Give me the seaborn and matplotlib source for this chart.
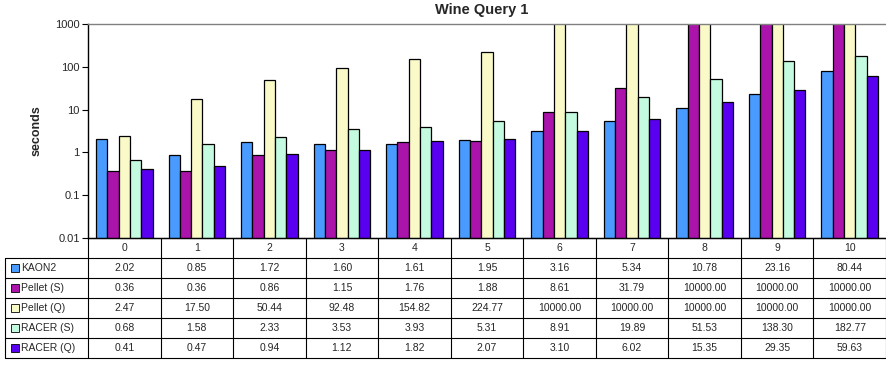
import matplotlib
matplotlib.use("Agg")
import matplotlib.pyplot as plt
from matplotlib.patches import Rectangle
from matplotlib.lines import Line2D
import seaborn as sns
import pandas as pd

# Query sizes (x categories)
categories = ["0", "1", "2", "3", "4", "5", "6", "7", "8", "9", "10"]
series_names = ["KAON2", "Pellet (S)", "Pellet (Q)", "RACER (S)", "RACER (Q)"]

kaon2 = [2.02, 0.85, 1.72, 1.60, 1.61, 1.95, 3.16, 5.34, 10.78, 23.16, 80.44]
pellet_s = [0.36, 0.36, 0.86, 1.15, 1.76, 1.88, 8.61, 31.79, 10000.00, 10000.00, 10000.00]
pellet_q = [2.47, 17.50, 50.44, 92.48, 154.82, 224.77, 10000.00, 10000.00, 10000.00, 10000.00, 10000.00]
racer_s = [0.68, 1.58, 2.33, 3.53, 3.93, 5.31, 8.91, 19.89, 51.53, 138.30, 182.77]
racer_q = [0.41, 0.47, 0.94, 1.12, 1.82, 2.07, 3.10, 6.02, 15.35, 29.35, 59.63]

y_ticks = [0.01, 0.1, 1, 10, 100, 1000]
y_tick_labels = ["0.01", "0.1", "1", "10", "100", "1000"]

colors = ["#4a9bff", "#ab14ab", "#fafac8", "#c4fadf", "#5a00f0"]

series_values = [kaon2, pellet_s, pellet_q, racer_s, racer_q]
df = pd.DataFrame(
    [(c, name, v) for name, vals in zip(series_names, series_values)
     for c, v in zip(categories, vals)],
    columns=["query", "system", "seconds"],
)

sns.set_theme(style="white")
plt.rcParams["font.family"] = ["Liberation Sans", "DejaVu Sans"]

W, H = 887, 365
fig = plt.figure(figsize=(W / 100, H / 100), dpi=100)

# plot area in pixel coordinates
px_left, px_right, px_top, px_bottom = 88, 886, 24, 238
ax = fig.add_axes([px_left / W, 1 - px_bottom / H,
                   (px_right - px_left) / W, (px_bottom - px_top) / H])
ax.set_yscale("log")

sns.barplot(data=df, x="query", y="seconds", hue="system", order=categories,
            hue_order=series_names, palette=colors, width=0.78, gap=0,
            edgecolor="black", linewidth=0.9, ax=ax,
            legend=False, saturation=1)

ax.set_ylim(0.01, 1000)
ax.set_xlim(-0.5, len(categories) - 0.5)
ax.set_yticks(y_ticks)
ax.set_yticklabels(y_tick_labels, fontsize=8)
ax.yaxis.set_minor_locator(matplotlib.ticker.NullLocator())
ax.tick_params(axis="y", which="major", length=4, width=0.8, color="black",
               left=True, pad=2)
ax.tick_params(axis="x", bottom=False, labelbottom=False)
ax.set_xlabel("")
ax.set_ylabel("seconds", fontsize=9, fontweight="bold")
ax.yaxis.set_label_coords((43 - px_left) / (px_right - px_left), 0.5)
ax.grid(False)

for side in ["left", "bottom"]:
    ax.spines[side].set_color("black")
    ax.spines[side].set_linewidth(1.0)
ax.spines["top"].set_color("#808080")
ax.spines["top"].set_linewidth(1.0)
ax.spines["right"].set_visible(False)

fig.text(482 / W, 1 - 10 / H, "Wine Query 1", ha="center", va="center",
         fontsize=10.5, fontweight="bold")

# data table below the plot
def fx(x):
    return x / W

def fy(y):
    return 1 - y / H

n = len(categories)
col_w = (px_right - px_left) / n
row_h = 20
header_top = px_bottom
rows_top = header_top + row_h
table_left = 5
table_bottom = rows_top + row_h * len(series_names)

line_kw = dict(color="black", linewidth=0.8, transform=fig.transFigure)

# vertical column lines
for k in range(n + 1):
    x = px_left + k * col_w
    fig.add_artist(Line2D([fx(x), fx(x)], [fy(header_top), fy(table_bottom)], **line_kw))
fig.add_artist(Line2D([fx(table_left), fx(table_left)], [fy(rows_top), fy(table_bottom)], **line_kw))

# horizontal row lines
fig.add_artist(Line2D([fx(px_left), fx(px_right)], [fy(header_top), fy(header_top)], **line_kw))
for r in range(len(series_names) + 1):
    y = rows_top + r * row_h
    fig.add_artist(Line2D([fx(table_left), fx(px_right)], [fy(y), fy(y)], **line_kw))

# header labels
for k, c in enumerate(categories):
    fig.text(fx(px_left + (k + 0.5) * col_w), fy(header_top + row_h / 2), c,
             ha="center", va="center", fontsize=7.5)

# rows with legend swatches and values
for r, (name, vals, col) in enumerate(zip(series_names, series_values, colors)):
    yc = rows_top + (r + 0.5) * row_h
    fig.add_artist(Rectangle((fx(11), fy(yc + 4)), fx(8), 8 / H,
                             facecolor=col, edgecolor="black", linewidth=0.6,
                             transform=fig.transFigure))
    fig.text(fx(21), fy(yc), name, ha="left", va="center", fontsize=7.5)
    for k, v in enumerate(vals):
        fig.text(fx(px_left + (k + 0.5) * col_w), fy(yc), f"{v:.2f}",
                 ha="center", va="center", fontsize=7.5)

fig.savefig("out.png", dpi=100, facecolor="white")
